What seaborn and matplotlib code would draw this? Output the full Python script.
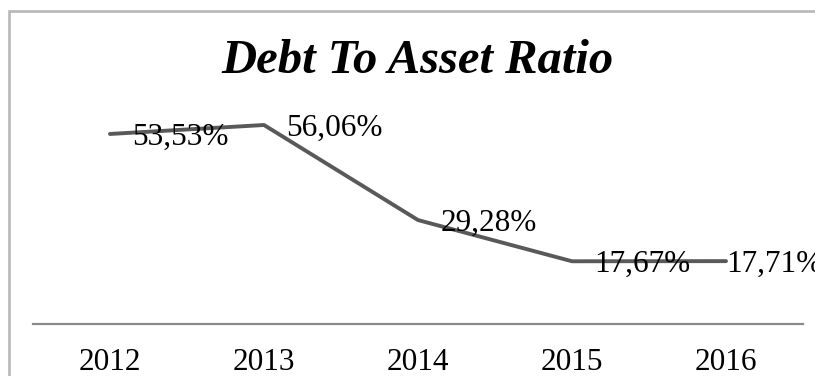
import matplotlib
matplotlib.use("Agg")
import matplotlib.pyplot as plt
import seaborn as sns
import pandas as pd
from matplotlib.patches import Rectangle

years = ["2012", "2013", "2014", "2015", "2016"]
ratios = [53.53, 56.06, 29.28, 17.67, 17.71]
labels = ["53,53%", "56,06%", "29,28%", "17,67%", "17,71%"]
title = "Debt To Asset Ratio"

sns.set_theme(style="white")
plt.rcParams["font.family"] = ["Liberation Serif", "DejaVu Serif"]

df = pd.DataFrame({"year": years, "ratio": ratios})

W, H = 815, 376
fig = plt.figure(figsize=(W / 100, H / 100), dpi=100)
fig.patch.set_facecolor("white")

# outer chart-area border (extends beyond right/bottom edges)
fig.patches.append(Rectangle((9 / W, -0.1), 1.2, (H - 11) / H + 0.1,
                             transform=fig.transFigure, fill=False,
                             edgecolor="#BBBBBB", linewidth=2.0, zorder=0))

ax = fig.add_axes([33 / W, 52 / H, (803 - 33) / W, (324 - 111) / H])
ax.set_facecolor("none")
sns.lineplot(data=df, x="year", y="ratio", ax=ax, color="#595959",
             linewidth=2.8, sort=False)
ax.set_xlim(-0.5, 4.5)
ax.set_ylim(0, 60)
ax.set_xlabel("")
ax.set_ylabel("")
ax.set_yticks([])
for s in ["top", "right", "left"]:
    ax.spines[s].set_visible(False)
ax.spines["bottom"].set_color("#898989")
ax.spines["bottom"].set_linewidth(1.6)
ax.tick_params(axis="x", length=0, pad=17, labelsize=22.5, colors="black")

offsets = [16, 16, 16, 16, 0]
for i, (v, lab) in enumerate(zip(ratios, labels)):
    ax.annotate(lab, (i, v), xytext=(offsets[i], 0), textcoords="offset points",
                ha="left", va="center_baseline", fontsize=22.5,
                color="black", zorder=5, annotation_clip=False)

fig.text(0.5125, (H - 61) / H, title, ha="center", va="center",
         fontsize=35, fontweight="bold", fontstyle="italic", color="black")

fig.savefig("out.png", dpi=100)
